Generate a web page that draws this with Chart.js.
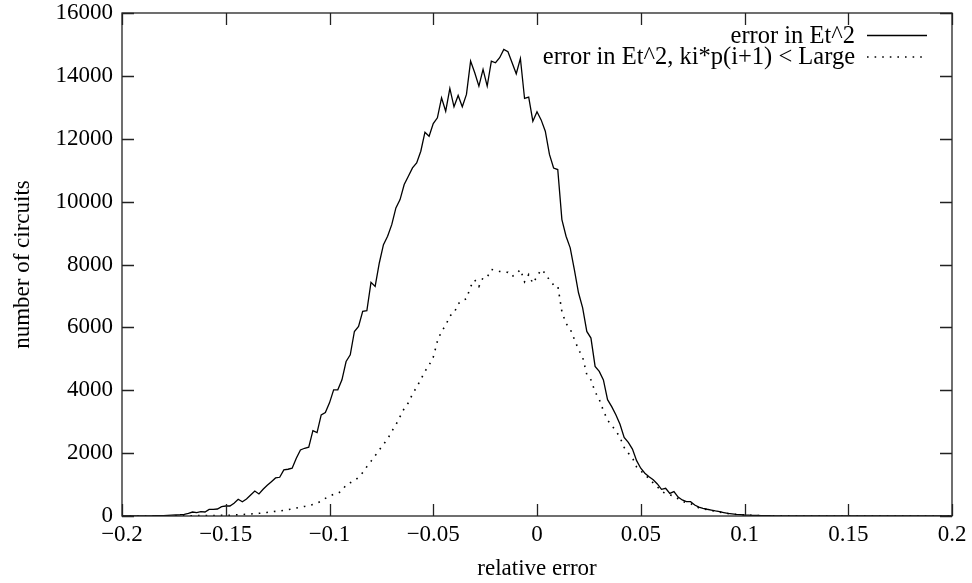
<!DOCTYPE html>
<html>
<head>
<meta charset="utf-8">
<script src="https://cdn.jsdelivr.net/npm/chart.js@4.4.0/dist/chart.umd.min.js"></script>
<style>
  html, body { margin: 0; padding: 0; background: #fff; }
</style>
</head>
<body>
<canvas id="chart" width="972" height="583"></canvas>
<script>
// histogram bins: -0.2 .. 0.2, width 0.002
const binStart = -0.2;
const binWidth = 0.002;

// error in Et^2
const errorAll = [
  1, 1, 2, 2, 3, 4, 5, 7, 9, 12,
  15, 20, 25, 32, 40, 53, 85, 127, 106, 138,
  127, 212, 212, 223, 297, 318, 318, 404, 531, 455,
  541, 669, 796, 701, 850, 978, 1093, 1210, 1232, 1465,
  1487, 1519, 1838, 2102, 2155, 2187, 2717, 2654, 3217, 3291,
  3600, 4013, 4013, 4332, 4915, 5128, 5870, 6029, 6507, 6529,
  7431, 7303, 8048, 8631, 8896, 9268, 9800, 10065, 10543, 10807,
  11074, 11233, 11603, 12208, 12080, 12485, 12666, 13304, 12877, 13600,
  13017, 13377, 13017, 13409, 14470, 14100, 13673, 14205, 13673, 14470,
  14417, 14577, 14842, 14768, 14417, 14067, 14555, 13281, 13323, 12558,
  12860, 12600, 12240, 11500, 11070, 11020, 9430, 8900, 8530, 7840,
  7100, 6620, 5870, 5660, 4760, 4600, 4330, 3700, 3480, 3220,
  2920, 2500, 2340, 2130, 1760, 1520, 1360, 1250, 1150, 1020,
  850, 880, 720, 775, 600, 510, 455, 455, 350, 280,
  245, 215, 190, 160, 137, 110, 86, 70, 54, 42,
  32, 25, 20, 16, 13, 10, 8, 7, 6, 5,
  4, 4, 3, 3, 3, 2, 2, 2, 2, 2,
  1, 1, 1, 1, 1, 1, 1, 1, 1, 1,
  1, 0, 1, 0, 0, 1, 0, 0, 0, 0,
  0, 0, 0, 0, 0, 0, 0, 0, 0, 0,
  0
];

// error in Et^2, ki*p(i+1) < Large
const errorLarge = [
  0, 0, 0, 0, 0, 1, 1, 1, 1, 2,
  2, 3, 3, 4, 5, 6, 7, 9, 10, 12,
  13, 15, 17, 19, 20, 22, 25, 32, 40, 48,
  55, 64, 75, 85, 100, 115, 135, 148, 160, 180,
  200, 225, 255, 280, 305, 330, 365, 410, 470, 560,
  630, 690, 720, 800, 990, 1060, 1120, 1230, 1380, 1570,
  1740, 1920, 2100, 2280, 2450, 2690, 2900, 3160, 3420, 3600,
  3880, 4100, 4340, 4600, 4800, 5050, 5560, 5880, 6060, 6370,
  6450, 6750, 6860, 6910, 7300, 7510, 7300, 7580, 7600, 7840,
  7820, 7780, 7760, 7750, 7620, 7700, 7840, 7450, 7680, 7400,
  7620, 7840, 7720, 7500, 7350, 7330, 6500, 6120, 5950, 5620,
  5300, 5050, 4500, 4330, 3950, 3710, 3350, 3050, 2880, 2710,
  2500, 2180, 2000, 1850, 1560, 1430, 1330, 1180, 1050, 930,
  780, 720, 670, 640, 550, 470, 420, 400, 320, 260,
  230, 200, 175, 150, 125, 105, 80, 65, 50, 40,
  30, 22, 18, 14, 10, 8, 6, 5, 4, 3,
  3, 2, 2, 2, 1, 1, 1, 1, 1, 1,
  1, 1, 0, 1, 0, 0, 1, 0, 0, 0,
  0, 0, 0, 0, 0, 0, 0, 0, 0, 0,
  0, 0, 0, 0, 0, 0, 0, 0, 0, 0,
  0
];

const xTicks = [-0.2, -0.15, -0.1, -0.05, 0, 0.05, 0.1, 0.15, 0.2];
const yTicks = [0, 2000, 4000, 6000, 8000, 10000, 12000, 14000, 16000];

const FONT = "'Liberation Serif', 'Times New Roman', serif";
const FONT_SIZE = 23;

function toPoints(values) {
    return values.map((v, i) => ({ x: binStart + i * binWidth, y: v }));
}

function fmtX(v) {
    if (Math.abs(v) < 1e-9) return '0';
    return String(Math.round(v * 100) / 100).replace('-', '\u2212');
}

// gnuplot style frame with inward ticks on all four sides
const framePlugin = {
    id: 'frame',
    afterDatasetsDraw(chart) {
        const { ctx, chartArea: a, scales } = chart;
        const len = 12;
        ctx.save();
        ctx.strokeStyle = '#222';
        ctx.lineWidth = 1.3;
        ctx.beginPath();
        xTicks.forEach(v => {
            const px = Math.round(scales.x.getPixelForValue(v)) + 0.5;
            ctx.moveTo(px, a.bottom); ctx.lineTo(px, a.bottom - len);
            ctx.moveTo(px, a.top); ctx.lineTo(px, a.top + len);
        });
        yTicks.forEach(v => {
            const py = Math.round(scales.y.getPixelForValue(v)) + 0.5;
            ctx.moveTo(a.left, py); ctx.lineTo(a.left + len, py);
            ctx.moveTo(a.right, py); ctx.lineTo(a.right - len, py);
        });
        ctx.stroke();
        ctx.strokeRect(a.left, a.top, a.right - a.left, a.bottom - a.top);
        ctx.restore();
    }
};

// key in the top right corner: text right aligned, sample line after it
const keyPlugin = {
    id: 'key',
    afterDatasetsDraw(chart) {
        const { ctx, chartArea: a } = chart;
        ctx.save();
        ctx.font = '24.5px ' + FONT;
        ctx.textAlign = 'right';
        ctx.textBaseline = 'middle';
        chart.data.datasets.forEach((ds, i) => {
            const y = a.top + 22.5 + i * 21.5;
            ctx.fillStyle = '#000';
            ctx.fillText(ds.label, a.right - 97, y + 1);
            ctx.strokeStyle = ds.borderColor;
            ctx.lineWidth = ds.borderWidth;
            ctx.setLineDash(ds.borderDash || []);
            ctx.beginPath();
            ctx.moveTo(a.right - 85, y);
            ctx.lineTo(a.right - 25, y);
            ctx.stroke();
        });
        ctx.restore();
    }
};

const chartData = {
    datasets: [
        {
            label: 'error in Et^2',
            data: toPoints(errorAll),
            borderColor: '#000',
            borderWidth: 1.3,
            pointRadius: 0,
            tension: 0,
            fill: false
        },
        {
            label: 'error in Et^2, ki*p(i+1) < Large',
            data: toPoints(errorLarge),
            borderColor: '#000',
            borderWidth: 1.6,
            borderDash: [1.6, 6],
            pointRadius: 0,
            tension: 0,
            fill: false
        }
    ]
};

const options = {
    responsive: false,
    animation: false,
    devicePixelRatio: 1,
    layout: { padding: { top: 13, right: 20, left: 0, bottom: 0 } },
    plugins: {
        legend: { display: false },
        tooltip: { enabled: false }
    },
    scales: {
        x: {
            type: 'linear',
            min: -0.2,
            max: 0.2,
            afterBuildTicks: (scale) => { scale.ticks = xTicks.map(v => ({ value: v })); },
            afterFit: (scale) => { scale.height = 67; },
            grid: { display: false, drawTicks: false },
            border: { display: false },
            ticks: {
                color: '#000',
                padding: 5,
                maxRotation: 0,
                font: { family: FONT, size: FONT_SIZE },
                callback: (v) => fmtX(v)
            },
            title: {
                display: true,
                text: 'relative error',
                color: '#000',
                padding: { top: 0, bottom: 0 },
                font: { family: FONT, size: FONT_SIZE }
            }
        },
        y: {
            min: 0,
            max: 16000,
            afterBuildTicks: (scale) => { scale.ticks = yTicks.map(v => ({ value: v })); },
            afterFit: (scale) => {
                scale.width = 122;
                scale.paddingTop = 0;
                scale.paddingBottom = 0;
            },
            grid: { display: false, drawTicks: false },
            border: { display: false },
            ticks: {
                color: '#000',
                padding: 9,
                font: { family: FONT, size: FONT_SIZE },
                callback: (v) => String(v)
            },
            title: {
                display: true,
                text: 'number of circuits',
                color: '#000',
                padding: { top: 9, bottom: 0 },
                font: { family: FONT, size: FONT_SIZE }
            }
        }
    }
};

new Chart(document.getElementById('chart'), {
    type: 'line',
    data: chartData,
    options: options,
    plugins: [framePlugin, keyPlugin]
});
</script>
</body>
</html>
